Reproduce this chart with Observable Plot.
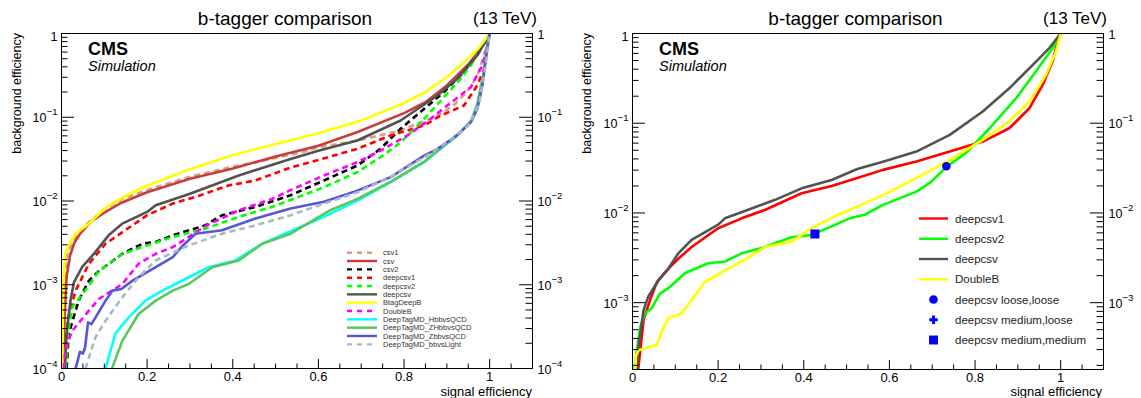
<!DOCTYPE html>
<html><head><meta charset="utf-8">
<script src="https://cdn.jsdelivr.net/npm/d3@7"></script>
<script src="https://cdn.jsdelivr.net/npm/@observablehq/plot@0.6"></script>
<style>
body{margin:0;background:#fff;}
#wrap{display:flex;width:1141px;height:398px;background:#fff;}
</style></head><body><div id="wrap"></div>
<script>
// ---------------- data: left panel (signal efficiency, background efficiency) ----------------
const csv1_x = [0.002,0.004,0.007,0.015,0.03,0.06,0.1,0.14,0.2,0.3,0.4,0.47,0.56,0.6,0.69,0.79,0.88,0.92,0.956,0.975,0.99,1];
const csv1_y = [1e-4,5.01e-4,0.00126,0.00251,0.00355,0.00537,0.00794,0.0105,0.0135,0.0195,0.0257,0.0302,0.038,0.0437,0.0525,0.0692,0.105,0.145,0.229,0.355,0.631,1];
const csv_x = [0.003,0.008,0.012,0.02,0.03,0.045,0.07,0.1,0.14,0.2,0.3,0.4,0.5,0.6,0.69,0.8,0.85,0.9,0.95,0.975,1];
const csv_y = [1e-4,5.01e-4,0.00126,0.00224,0.00316,0.00417,0.00575,0.00724,0.00955,0.0127,0.0184,0.0245,0.0339,0.0457,0.0661,0.112,0.151,0.24,0.427,0.617,1];
const csv2_x = [0.012,0.017,0.04,0.064,0.087,0.142,0.189,0.22,0.26,0.336,0.375,0.453,0.535,0.613,0.691,0.745,0.792,0.847,0.893,0.932,0.971,1];
const csv2_y = [1e-4,2.63e-4,6.46e-4,0.00112,0.00145,0.00234,0.00309,0.00324,0.00389,0.00513,0.00676,0.00851,0.0117,0.0176,0.0265,0.042,0.0728,0.126,0.2,0.316,0.55,1];
const deepcsv1_x = [0.005,0.015,0.033,0.064,0.103,0.126,0.2,0.26,0.32,0.39,0.453,0.535,0.6,0.691,0.769,0.847,0.886,0.94,0.971,0.987,0.995,1];
const deepcsv1_y = [1e-4,3.98e-4,8.51e-4,0.00178,0.00309,0.00372,0.00676,0.00933,0.0115,0.0153,0.0176,0.0251,0.0309,0.042,0.0607,0.0798,0.105,0.138,0.24,0.38,0.724,1];
const deepcsv2_x = [0.01,0.015,0.025,0.064,0.087,0.142,0.189,0.26,0.336,0.414,0.492,0.55,0.613,0.691,0.745,0.792,0.847,0.886,0.932,0.956,0.979,1];
const deepcsv2_y = [1e-4,2.51e-4,5.37e-4,9.77e-4,0.00145,0.00234,0.00282,0.00372,0.00468,0.00646,0.00851,0.011,0.0146,0.0221,0.0333,0.0501,0.0955,0.158,0.288,0.417,0.661,1];
const deepcsv_x = [0.008,0.012,0.021,0.029,0.048,0.079,0.11,0.142,0.2,0.22,0.3,0.414,0.535,0.6,0.691,0.792,0.878,0.924,0.971,1];
const deepcsv_y = [1e-4,2.63e-4,6.46e-4,0.00107,0.00162,0.00245,0.00389,0.00537,0.00741,0.00891,0.0122,0.0202,0.0318,0.0398,0.0528,0.0914,0.182,0.288,0.55,1];
const btagDeepB_x = [0.002,0.004,0.007,0.009,0.017,0.033,0.064,0.103,0.142,0.2,0.3,0.4,0.5,0.6,0.7,0.8,0.85,0.9,0.95,0.975,1];
const btagDeepB_y = [1e-4,1e-3,0.00178,0.00234,0.00302,0.00407,0.00537,0.00832,0.011,0.0153,0.024,0.0355,0.0479,0.0646,0.0912,0.148,0.2,0.302,0.501,0.676,1];
const doubleB_x = [0.005,0.01,0.025,0.064,0.087,0.142,0.18,0.22,0.26,0.3,0.336,0.414,0.492,0.535,0.613,0.691,0.753,0.808,0.862,0.901,0.956,0.983,0.995,1];
const doubleB_y = [1e-4,1.78e-4,2.82e-4,4.9e-4,6.76e-4,0.00102,0.00178,0.00234,0.00282,0.0038,0.00501,0.00776,0.0106,0.0135,0.0202,0.0291,0.042,0.0607,0.0955,0.138,0.229,0.417,0.724,1];
const hbb_x = [0.103,0.126,0.157,0.196,0.236,0.297,0.344,0.406,0.469,0.535,0.613,0.691,0.769,0.847,0.924,0.956,0.971,0.985,0.995,1];
const hbb_y = [1e-4,2.63e-4,4.07e-4,6.46e-4,8.51e-4,0.00123,0.00162,0.00195,0.00309,0.00437,0.00646,0.0101,0.0168,0.0291,0.0607,0.0875,0.141,0.316,0.708,1];
const zhbb_x = [0.118,0.142,0.18,0.22,0.26,0.297,0.352,0.414,0.469,0.535,0.628,0.691,0.769,0.847,0.924,0.956,0.971,0.985,0.995,1];
const zhbb_y = [1e-4,2.14e-4,4.47e-4,6.46e-4,8.51e-4,0.00102,0.00162,0.00195,0.00309,0.00407,0.00776,0.0106,0.017,0.0295,0.0617,0.0891,0.141,0.316,0.708,1];
const zbb_x = [0.033,0.043,0.05,0.055,0.062,0.07,0.09,0.103,0.119,0.14,0.166,0.22,0.26,0.28,0.313,0.375,0.453,0.535,0.613,0.691,0.769,0.847,0.878,0.924,0.956,0.971,0.983,0.991,1];
const zbb_y = [1e-4,1.58e-4,1.51e-4,1.78e-4,3.55e-4,3.39e-4,5.01e-4,6.46e-4,8.51e-4,8.91e-4,0.00112,0.00162,0.00214,0.00282,0.00407,0.00447,0.00617,0.00813,0.00977,0.0133,0.0193,0.0349,0.042,0.0607,0.0875,0.126,0.24,0.501,1];
const bbLight_x = [0.056,0.079,0.103,0.142,0.18,0.22,0.297,0.375,0.453,0.535,0.613,0.691,0.769,0.847,0.9,0.95,0.975,0.99,1];
const bbLight_y = [1e-4,2.34e-4,3.72e-4,7.08e-4,0.00123,0.00195,0.00295,0.00407,0.00513,0.00676,0.00933,0.0127,0.0195,0.0331,0.0501,0.0794,0.141,0.398,1];

// ---------------- data: right panel ----------------
const r_deepcsv1_x = [0.012,0.026,0.041,0.057,0.084,0.107,0.138,0.2,0.255,0.309,0.395,0.465,0.525,0.585,0.663,0.741,0.818,0.88,0.927,0.958,0.981,0.993,1];
const r_deepcsv1_y = [1.58e-4,6.46e-4,0.00107,0.0017,0.0024,0.00309,0.00417,0.00676,0.00871,0.0108,0.0166,0.02,0.0245,0.0302,0.0374,0.0483,0.0624,0.0879,0.147,0.267,0.486,0.813,1];
const r_deepcsv2_x = [0.004,0.006,0.018,0.029,0.045,0.064,0.084,0.123,0.177,0.216,0.255,0.309,0.371,0.418,0.465,0.507,0.542,0.585,0.663,0.696,0.733,0.779,0.834,0.896,0.942,0.981,1];
const r_deepcsv2_y = [1.58e-4,2.09e-4,5.37e-4,7.59e-4,8.71e-4,0.00126,0.00145,0.00214,0.00275,0.00288,0.00355,0.00417,0.00537,0.00569,0.00708,0.00871,0.00955,0.0123,0.0173,0.0219,0.0324,0.0468,0.0879,0.19,0.377,0.686,1];
const r_deepcsv_x = [0.01,0.014,0.026,0.037,0.061,0.084,0.107,0.138,0.2,0.216,0.278,0.333,0.395,0.465,0.525,0.585,0.663,0.741,0.818,0.88,0.935,0.974,1];
const r_deepcsv_y = [1.58e-4,3.24e-4,8.32e-4,0.00117,0.00178,0.0024,0.00355,0.00501,0.00741,0.00871,0.0112,0.014,0.0188,0.0233,0.0309,0.0372,0.0483,0.0741,0.135,0.245,0.447,0.692,1];
const r_doubleB_x = [0.006,0.008,0.014,0.057,0.07,0.084,0.115,0.138,0.169,0.216,0.263,0.309,0.371,0.418,0.48,0.507,0.542,0.585,0.663,0.741,0.818,0.88,0.927,0.966,0.989,1];
const r_doubleB_y = [1.58e-4,2.51e-4,2.95e-4,3.39e-4,5.01e-4,6.76e-4,7.59e-4,0.00107,0.0017,0.00229,0.00302,0.00417,0.00479,0.00676,0.00955,0.0108,0.0128,0.0158,0.0244,0.039,0.0652,0.105,0.174,0.347,0.631,1];
const wp_names = ["deepcsv loose,loose","deepcsv medium,loose","deepcsv medium,medium"];
const wp_x = [0.733,0.696,0.426];
const wp_y = [0.0332,0.0193,0.00583];

// ---------------- axis ticks / labels ----------------
const xMajor = [0,0.2,0.4,0.6,0.8,1];
const xMinor = [0.05,0.1,0.15,0.25,0.3,0.35,0.45,0.5,0.55,0.65,0.7,0.75,0.85,0.9,0.95,1.05];
const yDecades = [1,0.1,0.01,0.001,0.0001];
const yDecadeBase = ["1","10","10","10","10"];
const yDecadeExp = ["","\u22121","\u22122","\u22123","\u22124"];
const yMinorMult = [2,3,4,5,6,7,8,9];

const leftSeries = [
  ["csv1", csv1_x, csv1_y], ["csv", csv_x, csv_y], ["csv2", csv2_x, csv2_y],
  ["deepcsv1", deepcsv1_x, deepcsv1_y], ["deepcsv2", deepcsv2_x, deepcsv2_y], ["deepcsv", deepcsv_x, deepcsv_y],
  ["BtagDeepB", btagDeepB_x, btagDeepB_y], ["DoubleB", doubleB_x, doubleB_y],
  ["DeepTagMD_HbbvsQCD", hbb_x, hbb_y], ["DeepTagMD_ZHbbvsQCD", zhbb_x, zhbb_y],
  ["DeepTagMD_ZbbvsQCD", zbb_x, zbb_y], ["DeepTagMD_bbvsLight", bbLight_x, bbLight_y]
];
const rightSeries = [
  ["deepcsv1", r_deepcsv1_x, r_deepcsv1_y], ["deepcsv2", r_deepcsv2_x, r_deepcsv2_y],
  ["deepcsv", r_deepcsv_x, r_deepcsv_y], ["DoubleB", r_doubleB_x, r_doubleB_y]
];

// ---------------- styles ----------------
const leftStyle = {
  csv1: {c:"#d0a283", d:true}, csv: {c:"#cc3b3b", d:false}, csv2: {c:"#000000", d:true},
  deepcsv1: {c:"#ff0000", d:true}, deepcsv2: {c:"#00ff00", d:true}, deepcsv: {c:"#525252", d:false},
  BtagDeepB: {c:"#ffff00", d:false}, DoubleB: {c:"#ff00ff", d:true},
  DeepTagMD_HbbvsQCD: {c:"#00ffff", d:false}, DeepTagMD_ZHbbvsQCD: {c:"#5bc65b", d:false},
  DeepTagMD_ZbbvsQCD: {c:"#5656d6", d:false}, DeepTagMD_bbvsLight: {c:"#aab8c6", d:true}
};
const rightStyle = {deepcsv1:{c:"#ff0000"}, deepcsv2:{c:"#00ff00"}, deepcsv:{c:"#525252"}, DoubleB:{c:"#ffff00"}};
const FONT = "'Liberation Sans', Arial, Helvetica, sans-serif";

function rows(x, y){ return x.map((v,i)=>({x:v, y:y[i]})); }

function axisMarks(ymin, width, mL, mR, height, mT, mB){
  const pxX = (width - mL - mR) / 1.1;
  const pxDec = (height - mT - mB) / Math.log10(1/ymin);
  const yMinor = [];
  for (const d of yDecades.slice(1)) for (const m of yMinorMult) { const v = d*m; if (v >= ymin && v < 1) yMinor.push(v); }
  const yMaj = yDecades.filter(v => v >= ymin);
  const bot = (px) => ymin * Math.pow(10, px/pxDec);
  const lab = yDecades.map((v,i)=>({v, b:yDecadeBase[i], e:yDecadeExp[i]})).filter(d=>d.v>=ymin);
  const ts = {stroke:"black", strokeWidth:1};
  return [
    Plot.ruleY(yMaj, {y:d=>d, x1:0, x2:13/pxX, ...ts}),
    Plot.ruleY(yMinor, {y:d=>d, x1:0, x2:6.5/pxX, ...ts}),
    Plot.ruleY(yMaj, {y:d=>d, x1:1.1-13/pxX, x2:1.1, ...ts}),
    Plot.ruleY(yMinor, {y:d=>d, x1:1.1-6.5/pxX, x2:1.1, ...ts}),
    Plot.ruleX(xMajor, {x:d=>d, y1:ymin, y2:bot(9), ...ts}),
    Plot.ruleX(xMinor, {x:d=>d, y1:ymin, y2:bot(4.5), ...ts}),
    Plot.text(xMajor, {x:d=>d, text:d=>String(d), frameAnchor:"bottom", lineAnchor:"bottom", dy:12, fontSize:13, fill:"black"}),
    // left labels
    Plot.text(lab, {y:"v", text:d=>d.e ? d.b : "", frameAnchor:"left", textAnchor:"end", dx:-15, dy:1, fontSize:12.5, fill:"black"}),
    Plot.text(lab, {y:"v", text:d=>d.e ? "" : d.b, frameAnchor:"left", textAnchor:"end", dx:-4, dy:3, fontSize:12.5, fill:"black"}),
    Plot.text(lab, {y:"v", text:"e", frameAnchor:"left", textAnchor:"end", dx:-4, dy:-5, fontSize:9.5, fill:"black"}),
    // right labels
    Plot.text(lab, {y:"v", text:"b", frameAnchor:"right", textAnchor:"start", dx:5, dy:1, fontSize:12.5, fill:"black"}),
    Plot.text(lab, {y:"v", text:"e", frameAnchor:"right", textAnchor:"start", dx:19, dy:-5, fontSize:9.5, fill:"black"}),
    Plot.frame({stroke:"black", strokeWidth:1})
  ];
}

function decorate(svg, w, mL){
  const s = d3.select(svg).append("g").attr("text-anchor","start").attr("fill","black");
  s.append("text").attr("x", w/2).attr("y", 25).attr("text-anchor","middle").attr("font-size",19).text("b-tagger comparison");
  s.append("text").attr("x", 537).attr("y", 24).attr("text-anchor","end").attr("font-size",17).text("(13 TeV)");
  s.append("text").attr("x", mL+27).attr("y", 55).attr("font-size",18).attr("font-weight","bold").text("CMS");
  s.append("text").attr("x", mL+27).attr("y", 71).attr("font-size",14.5).attr("font-style","italic").text("Simulation");
  s.append("text").attr("transform","translate(21,33) rotate(-90)").attr("text-anchor","end").attr("font-size",12.5).text("background efficiency");
  s.append("text").attr("x", 532).attr("y", 396).attr("text-anchor","end").attr("font-size",13).text("signal efficiency");
}

// ---------------- left panel ----------------
{
  const W = 570, H = 398, mL = 61, mR = 38, mT = 33, mB = 30, ymin = 1e-4;
  const marks = [];
  for (const [name, xs, ys] of leftSeries) {
    const st = leftStyle[name];
    marks.push(Plot.line(rows(xs, ys), {x:"x", y:"y", stroke:st.c, strokeWidth:2.6, strokeDasharray: st.d ? "6,4" : null, strokeLinecap:"butt", strokeLinejoin:"round", clip:true}));
  }
  marks.push(...axisMarks(ymin, W, mL, mR, H, mT, mB));
  const svg = Plot.plot({
    width:W, height:H, marginLeft:mL, marginRight:mR, marginTop:mT, marginBottom:mB,
    x:{domain:[0,1.1], axis:null}, y:{type:"log", domain:[ymin,1], axis:null},
    style:{fontFamily:FONT, background:"white", overflow:"visible"},
    marks
  });
  decorate(svg, W, mL);
  const g = d3.select(svg).append("g").attr("font-size", 7.5).attr("fill", "#333").attr("text-anchor","start");
  leftSeries.forEach(([name], i) => {
    const st = leftStyle[name], y = 252.7 + i*8.33;
    g.append("line").attr("x1",347).attr("x2",377).attr("y1",y).attr("y2",y).attr("stroke",st.c).attr("stroke-width",2.4).attr("stroke-dasharray", st.d ? "5,5" : null);
    g.append("text").attr("x",383).attr("y",y+2.6).text(name);
  });
  document.getElementById("wrap").appendChild(svg);
}

// ---------------- right panel ----------------
{
  const W = 571, H = 398, mL = 62, mR = 38, mT = 33, mB = 29, ymin = 1.8e-4;
  const marks = [];
  for (const [name, xs, ys] of rightSeries) {
    marks.push(Plot.line(rows(xs, ys), {x:"x", y:"y", stroke:rightStyle[name].c, strokeWidth:2.6, strokeLinecap:"butt", strokeLinejoin:"round", clip:true}));
  }
  const wp = wp_names.map((n,i)=>({n, x:wp_x[i], y:wp_y[i]}));
  marks.push(Plot.dot(wp.slice(0,1), {x:"x", y:"y", r:4.3, fill:"#0000ff", symbol:"circle"}));
  marks.push(Plot.dot(wp.slice(1,2), {x:"x", y:"y", r:3.6, fill:"#0000ff", symbol:"plus"}));
  marks.push(Plot.dot(wp.slice(2,3), {x:"x", y:"y", r:5.1, fill:"#0000ff", symbol:"square"}));
  marks.push(...axisMarks(ymin, W, mL, mR, H, mT, mB));
  const svg = Plot.plot({
    width:W, height:H, marginLeft:mL, marginRight:mR, marginTop:mT, marginBottom:mB,
    x:{domain:[0,1.1], axis:null}, y:{type:"log", domain:[ymin,1], axis:null},
    style:{fontFamily:FONT, background:"white", overflow:"visible"},
    marks
  });
  decorate(svg, W, mL);
  const g = d3.select(svg).append("g").attr("font-size", 11.5).attr("fill", "#222").attr("text-anchor","start");
  const entries = rightSeries.map(([n])=>({n, line:true})).concat(wp_names.map((n,i)=>({n, sym:["circle","plus","square"][i]})));
  entries.forEach((e, i) => {
    const y = 218.5 + i*20.25;
    if (e.line) {
      g.append("line").attr("x1",349).attr("x2",378).attr("y1",y).attr("y2",y).attr("stroke",rightStyle[e.n].c).attr("stroke-width",2.4);
    } else {
      const t = {circle:d3.symbolCircle, plus:d3.symbolCross, square:d3.symbolSquare}[e.sym];
      const size = {circle:58, plus:40, square:80}[e.sym];
      g.append("path").attr("transform",`translate(363.5,${y})`).attr("d", d3.symbol(t, size)()).attr("fill","#0000ff");
    }
    g.append("text").attr("x",385).attr("y",y+4).text(e.n);
  });
  document.getElementById("wrap").appendChild(svg);
}
</script></body></html>
